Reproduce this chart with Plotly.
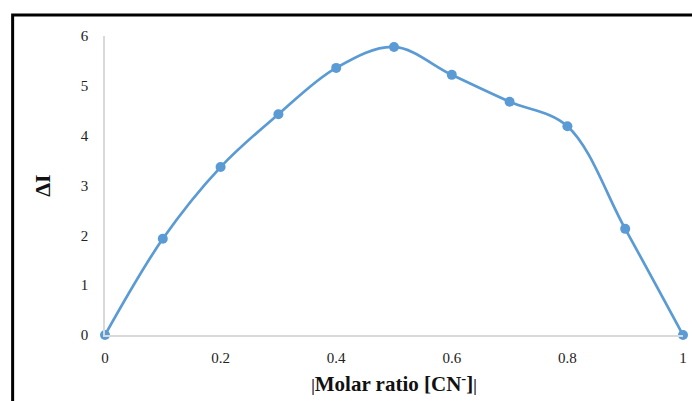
import plotly.graph_objects as go

# Job's plot data: molar ratio vs. intensity change
molar_ratio = [0, 0.1, 0.2, 0.3, 0.4, 0.5, 0.6, 0.7, 0.8, 0.9, 1.0]
delta_i = [0, 1.93, 3.37, 4.43, 5.36, 5.78, 5.22, 4.68, 4.19, 2.13, 0]

x_ticks = [0, 0.2, 0.4, 0.6, 0.8, 1]
x_tick_text = ["0", "0.2", "0.4", "0.6", "0.8", "1"]
y_ticks = [0, 1, 2, 3, 4, 5, 6]

BLUE = "#5B9BD5"
SERIF = "Liberation Serif, Times New Roman, serif"

fig = go.Figure()
fig.add_trace(go.Scatter(
    x=molar_ratio, y=delta_i,
    mode="lines+markers",
    line=dict(color=BLUE, width=2.7, shape="spline", smoothing=1.0),
    marker=dict(color=BLUE, size=10),
    cliponaxis=False,
    showlegend=False,
))

bar = "<span style='font-size:16px'>|</span>"

fig.update_layout(
    width=692, height=401,
    margin=dict(l=105, r=5, t=36, b=66),
    paper_bgcolor="white", plot_bgcolor="white",
    font=dict(family=SERIF, color="#222"),
    xaxis=dict(
        range=[0, 1], tickvals=x_ticks, ticktext=x_tick_text,
        showgrid=False, zeroline=False, showline=True,
        linecolor="#d9d9d9", linewidth=1.5, ticks="",
        ticklabelstandoff=8,
        tickfont=dict(size=15, family=SERIF, color="#222"),
        title=dict(text=f"<b>{bar}Molar ratio [CN<sup>-</sup>]{bar}</b>",
                   font=dict(size=21, family=SERIF, color="#111"), standoff=12),
    ),
    yaxis=dict(
        range=[0, 6], tickvals=y_ticks,
        showgrid=False, zeroline=False, showline=True,
        linecolor="#d9d9d9", linewidth=1.5, ticks="",
        ticklabelstandoff=12,
        tickfont=dict(size=15, family=SERIF, color="#222"),
        title=dict(text="<b>ΔI</b>", font=dict(size=22, family=SERIF, color="#111"),
                   standoff=24),
    ),
)

# Outer black frame around the chart
fig.add_shape(type="rect", xref="paper", yref="paper",
              x0=-93 / 582, x1=1.05, y0=-0.3, y1=1 + 21 / 299,
              line=dict(color="black", width=3), layer="below")

fig.write_html("out.html")
